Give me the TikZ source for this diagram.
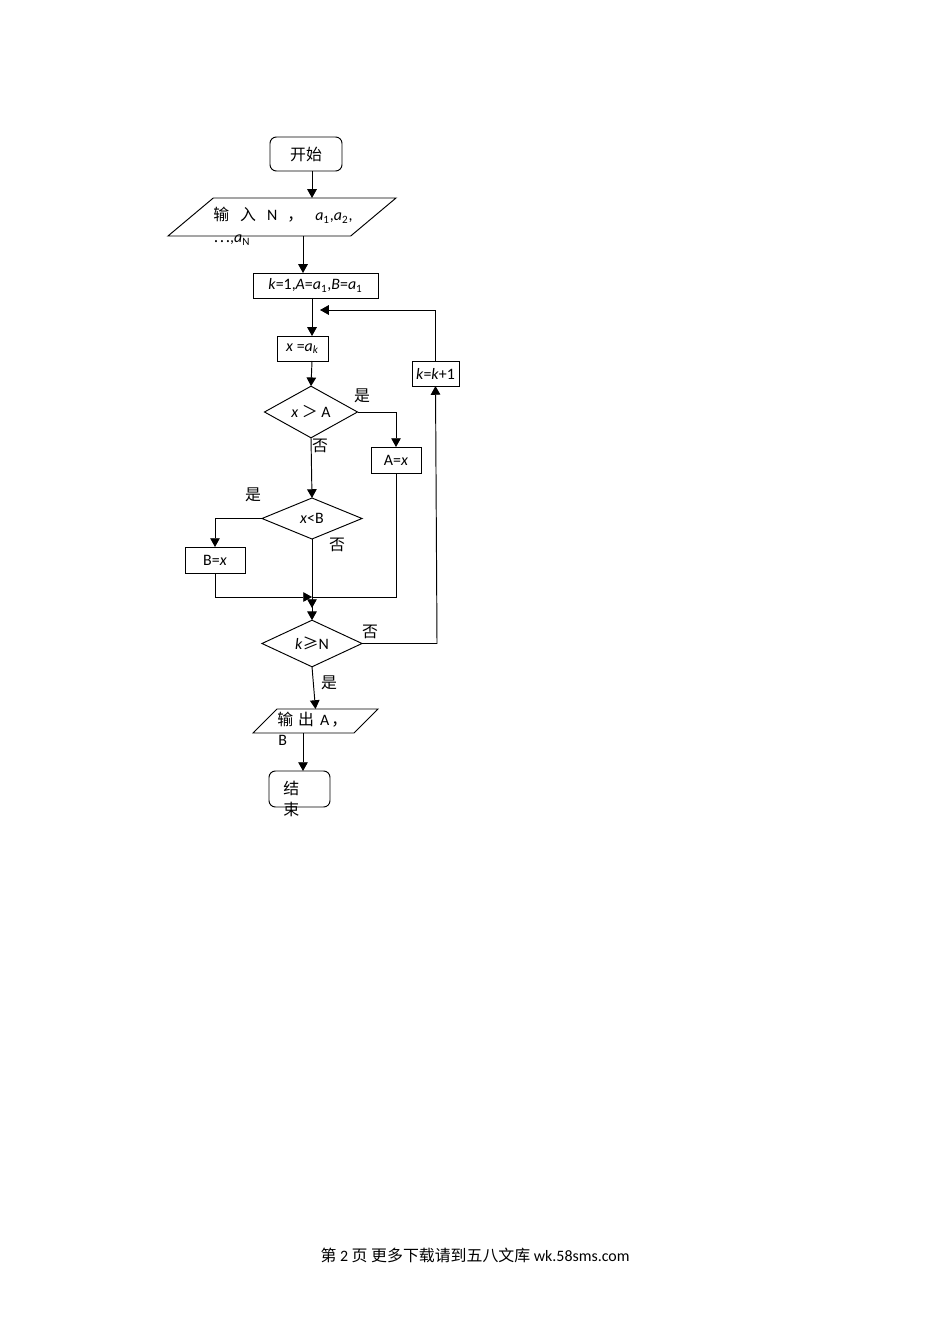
\documentclass[tikz,border=0pt]{standalone}
\usepackage{fontspec}
\setmainfont{Carlito}
\newfontfamily\cjk{Noto Sans CJK SC}
\usetikzlibrary{arrows.meta,shapes.geometric}
\newlength\upx \setlength\upx{0.0221cm}
\newcommand\zh[1]{{\cjk #1}}
\tikzset{
  flow/.style={draw, line width=0.6pt, inner sep=0pt, outer sep=0pt, font=\fontsize{10}{13}\selectfont},
  term/.style={flow, rectangle, rounded corners=4pt},
  proc/.style={flow, rectangle},
  cond/.style={flow, diamond},
  io/.style={flow, trapezium, trapezium stretches body},
  arr/.style={line width=0.6pt, -{Triangle[length=5.5pt,width=6pt]}},
  conn/.style={line width=0.6pt},
  lbl/.style={font=\fontsize{10}{13}\selectfont, inner sep=0pt},
}

\begin{document}
\begin{tikzpicture}[x=0.0221cm, y=-0.0221cm]
		%%%%% START %%%%%
		\useasboundingbox (0,0) rectangle (950,1344);
		
		\coordinate (c1) at (312,0);
		\coordinate (c2) at (303,0);
		\coordinate (c3) at (437,0);
		\coordinate (c4) at (396,0);
		\coordinate (c5) at (215,0);
		\coordinate (lp) at (320,310);
		\coordinate (mj) at (312,597);
		\coordinate (mg) at (312,608);
		
		\node[term, minimum width=72\upx, minimum height=34\upx] (start) at (306,154) {\zh{开始}\hspace{12\upx}};
		
		\node[io, trapezium left angle=40, trapezium right angle=140, inner ysep=19\upx, minimum width=228\upx] (in) at (282,217) {};
		\node[lbl, anchor=base west] (in-a) at (213,221) {\zh{输}\hspace{11\upx}\zh{入}\hspace{11\upx}N\hspace{10\upx}\zh{，}\hspace{12\upx}\textit{a}\textsubscript{1},\textit{a}\textsubscript{2},};
		\node[lbl, anchor=base west] (in-b) at (213,243) {\zh{⋯},\textit{a}\textsubscript{N}};
		
		\node[proc, minimum width=125\upx, minimum height=25\upx] (init) at (315.5,285.5) {\textit{k}=1,\textit{A}=\textit{a}\textsubscript{1},\textit{B}=\textit{a}\textsubscript{1}};
		\node[proc, minimum width=51\upx, minimum height=25\upx] (xa) at (302.5,348.5) {\textit{x} =\textit{a}\textsubscript{\textit{k}}};
		\node[cond, minimum width=93\upx, minimum height=42\upx] (d1) at (311,412) {\textit{x} \zh{＞} A};
		\node[proc, minimum width=50\upx, minimum height=26\upx] (ax) at (396,460) {A=\textit{x}};
		\node[cond, minimum width=100\upx, minimum height=41\upx] (d2) at (312,518.5) {\textit{x}<B};
		\node[proc, minimum width=60\upx, minimum height=26\upx] (bx) at (215,560) {B=\textit{x}};
		\node[cond, minimum width=100\upx, minimum height=41\upx] (d3) at (312,643.5) {\textit{k}\zh{≥}N};
		\node[proc, minimum width=47\upx, minimum height=25\upx] (kk) at (435.5,373.5) {\textit{k}=\textit{k}+1};
		
		\node[io, trapezium left angle=45, trapezium right angle=135, inner ysep=12\upx, minimum width=125\upx] (out) at (315.5,721) {};
		\node[lbl, anchor=base west] (out-a) at (277,725) {\zh{输}\hspace{5\upx}\zh{出}\hspace{6\upx}A\hspace{2\upx}\zh{，}};
		\node[lbl, anchor=base west] (out-b) at (278,745) {B};
		
		\node[term, minimum width=61\upx, minimum height=36\upx] (end) at (299.5,789) {};
		\node[lbl, anchor=base west] (end-a) at (283,794) {\zh{结}};
		\node[lbl, anchor=base west] (end-b) at (283,815) {\zh{束}};
		
		% labels
		\node[lbl] (y1) at (362,396) {\zh{是}};
		\node[lbl] (n1) at (320,446) {\zh{否}};
		\node[lbl] (y2) at (253,495) {\zh{是}};
		\node[lbl] (n2) at (337,545) {\zh{否}};
		\node[lbl] (n3) at (370,632) {\zh{否}};
		\node[lbl] (y3) at (329,683) {\zh{是}};
		
		% connectors
		\draw[arr] (start.south -| c1) -- (in.north -| c1);
		\draw[arr] (in.south -| c2) -- (init.north -| c2);
		\draw[arr] (init.south -| c1) -- (xa.north -| c1);
		\draw[arr] (xa.south -| c1) -- (d1.north);
		\draw[arr] (d1.east) -- (d1.east -| c4) -- (ax.north);
		\draw[arr] (d1.south) -- (d2.north);
		\draw[arr] (d2.west) -- (d2.west -| c5) -- (bx.north);
		\draw[arr] (d2.south) -- (mg);
		\draw[arr] (bx.south) -- (bx.south |- mj) -- (mj);
		\draw[conn] (ax.south) -- (ax.south |- mj) -- (mj);
		\draw[arr] (mj) -- (d3.north);
		\draw[arr] (d3.east) -- (d3.east -| c3) -- (kk.south);
		\draw[arr] (kk.north) -- (kk.north |- lp) -- (lp);
		\draw[arr] (d3.south) -- (out.north);
		\draw[arr] (out.south -| c2) -- (end.north -| c2);
		
		% footer
		\node[lbl] (foot) at (475,1255) {\zh{第} 2 \zh{页} \zh{更多下载请到五八文库} wk.58sms.com};
		%%%%% END %%%%%
\end{tikzpicture}
\end{document}
